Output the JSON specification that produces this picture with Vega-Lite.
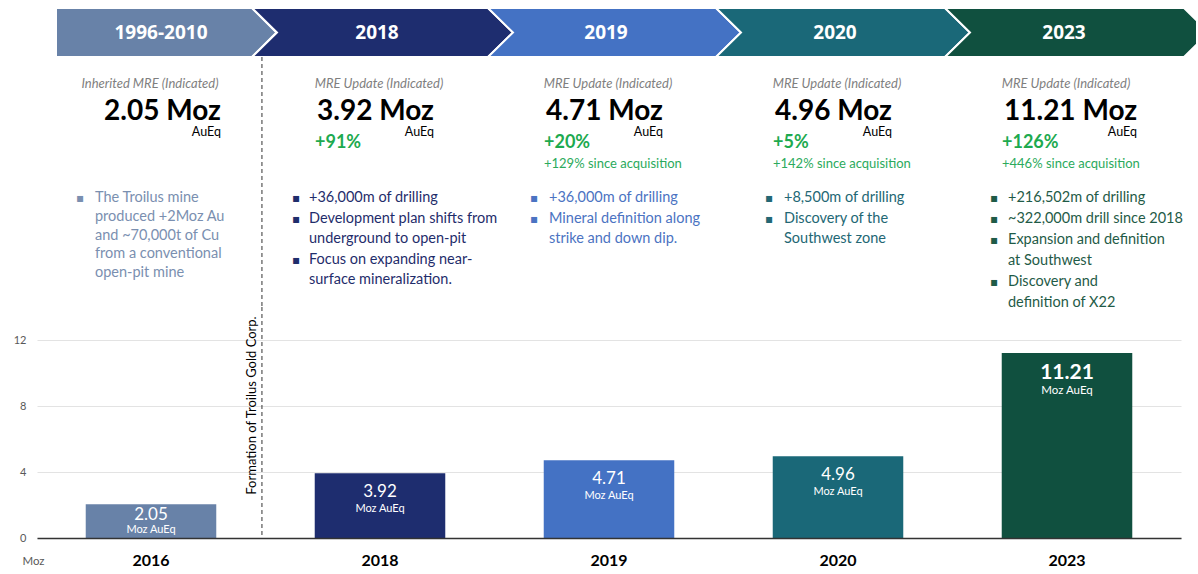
{
  "$schema": "https://vega.github.io/schema/vega-lite/v6.json",
  "padding": {"left": 13, "top": 4, "right": 0, "bottom": 0},
  "bounds": "flush",
  "spacing": 0,
  "background": "white",
  "config": {"view": {"stroke": null}, "font": "Lato",
             "axisY": {"labelOverlap": false, "labelFlush": false, "labelBound": false, "tickCount": 7, "labelSeparation": -200}},
  "datasets": {
    "stages": [
      {"year": "2016", "period": "1996-2010", "label": "Inherited MRE (Indicated)", "value": "2.05 Moz", "pct": "", "since": "", "mre": 2.05,
       "lines": ["The Troilus mine", "produced +2Moz Au", "and ~70,000t of Cu", "from a conventional", "open-pit mine"],
       "markers": ["▪", "\u200b", "\u200b", "\u200b", "\u200b"]},
      {"year": "2018", "period": "2018", "label": "MRE Update (Indicated)", "value": "3.92 Moz", "pct": "+91%", "since": "", "mre": 3.92,
       "lines": ["+36,000m of drilling", "Development plan shifts from", "underground to open-pit", "Focus on expanding near-", "surface mineralization."],
       "markers": ["▪", "▪", "\u200b", "▪", "\u200b"]},
      {"year": "2019", "period": "2019", "label": "MRE Update (Indicated)", "value": "4.71 Moz", "pct": "+20%", "since": "+129% since acquisition", "mre": 4.71,
       "lines": ["+36,000m of drilling", "Mineral definition along", "strike and down dip."],
       "markers": ["▪", "▪", "\u200b"]},
      {"year": "2020", "period": "2020", "label": "MRE Update (Indicated)", "value": "4.96 Moz", "pct": "+5%", "since": "+142% since acquisition", "mre": 4.96,
       "lines": ["+8,500m of drilling", "Discovery of the", "Southwest zone"],
       "markers": ["▪", "▪", "\u200b"]},
      {"year": "2023", "period": "2023", "label": "MRE Update (Indicated)", "value": "11.21 Moz", "pct": "+126%", "since": "+446% since acquisition", "mre": 11.21,
       "lines": ["+216,502m of drilling", "~322,000m drill since 2018", "Expansion and definition", "at Southwest", "Discovery and", "definition of X22"],
       "markers": ["▪", "▪", "▪", "\u200b", "▪", "\u200b"]}
    ],
    "events": [
      {"after": "2016", "event": "Formation of Troilus Gold Corp."}
    ]
  },
  "vconcat": [
    {
      "width": 1144, "height": 49,
      "data": {"name": "stages"},
      "encoding": {
        "x": {"field": "year", "type": "nominal", "axis": null,
              "scale": {"type": "band", "domain": ["2016", "2018", "2019", "2020", "2023"], "paddingInner": 0.43, "paddingOuter": 0.2128}}
      },
      "layer": [
        {
          "mark": {"type": "point", "filled": true, "opacity": 1, "size": 40000, "stroke": "white", "strokeWidth": 2},
          "encoding": {
            "color": {"field": "year", "type": "nominal", "legend": null,
                      "scale": {"domain": ["2016", "2018", "2019", "2020", "2023"], "range": ["#6882A8", "#1E2D6F", "#4472C4", "#1A6878", "#10503F"]}},
            "shape": {"field": "year", "type": "nominal", "legend": null,
                      "scale": {"domain": ["2016", "2018", "2019", "2020", "2023"],
                                "range": [
                                  "M-0.95,-0.245L1.01,-0.245L1.255,0L1.01,0.245L-0.95,0.245Z",
                                  "M-1.28,-0.245L1.08,-0.245L1.33,0L1.08,0.245L-1.28,0.245L-1.03,0Z",
                                  "M-1.21,-0.245L1.07,-0.245L1.32,0L1.07,0.245L-1.21,0.245L-0.96,0Z",
                                  "M-1.22,-0.245L1.07,-0.245L1.32,0L1.07,0.245L-1.22,0.245L-0.97,0Z",
                                  "M-1.22,-0.245L1.17,-0.245L1.30,-0.118L1.30,0.118L1.17,0.245L-1.22,0.245L-0.97,0Z"
                                ]}}
          }
        },
        {
          "transform": [{"filter": {"field": "year", "equal": "2016"}}],
          "mark": {"type": "text", "color": "white", "font": "Open Sans", "fontWeight": "bold", "fontSize": 19, "baseline": "middle", "dx": 10},
          "encoding": {"text": {"field": "period"}}
        },
        {
          "transform": [{"filter": {"not": {"field": "year", "equal": "2016"}}}],
          "mark": {"type": "text", "color": "white", "font": "Open Sans", "fontWeight": "bold", "fontSize": 19, "baseline": "middle", "dx": -3},
          "encoding": {"text": {"field": "period"}}
        }
      ]
    },
    {
      "width": 1144, "height": 250,
      "data": {"name": "stages"},
      "encoding": {
        "x": {"field": "year", "type": "nominal", "axis": null,
              "scale": {"type": "band", "domain": ["2016", "2018", "2019", "2020", "2023"], "paddingInner": 0.43, "paddingOuter": 0.2128}}
      },
      "layer": [
        {
          "data": {"name": "events"},
          "mark": {"type": "rule", "color": "#333333", "strokeWidth": 1, "strokeDash": [4, 3]},
          "encoding": {"x": {"field": "after", "type": "nominal", "bandPosition": 1.35}}
        },
        {
          "mark": {"type": "text", "fontStyle": "italic", "fontSize": 13, "color": "#7F7F7F", "baseline": "middle", "align": "center", "dx": -1, "dy": -98},
          "encoding": {"text": {"field": "label"}}
        },
        {
          "transform": [{"filter": {"field": "year", "equal": "2016"}}],
          "mark": {"type": "text", "fontWeight": "bold", "fontSize": 28, "color": "#000000", "baseline": "middle", "align": "left", "dx": -47, "dy": -70},
          "encoding": {"text": {"field": "value"}}
        },
        {
          "transform": [{"filter": {"not": {"field": "year", "equal": "2016"}}}],
          "mark": {"type": "text", "fontWeight": "bold", "fontSize": 28, "color": "#000000", "baseline": "middle", "align": "left", "dx": -63, "dy": -70},
          "encoding": {"text": {"field": "value"}}
        },
        {
          "transform": [{"filter": {"field": "year", "oneOf": ["2016", "2023"]}}],
          "mark": {"type": "text", "fontSize": 12.5, "color": "#000000", "baseline": "middle", "align": "right", "dx": 70, "dy": -50},
          "encoding": {"text": {"value": "AuEq"}}
        },
        {
          "transform": [{"filter": {"field": "year", "oneOf": ["2018", "2019", "2020"]}}],
          "mark": {"type": "text", "fontSize": 12.5, "color": "#000000", "baseline": "middle", "align": "right", "dx": 54, "dy": -50},
          "encoding": {"text": {"value": "AuEq"}}
        },
        {
          "mark": {"type": "text", "fontWeight": "bold", "fontSize": 18, "color": "#1DAA4F", "baseline": "middle", "align": "left", "dx": -65, "dy": -39},
          "encoding": {"text": {"field": "pct"}}
        },
        {
          "mark": {"type": "text", "fontSize": 13, "color": "#2BAA5C", "baseline": "middle", "align": "left", "dx": -65, "dy": -18},
          "encoding": {"text": {"field": "since"}}
        },
        {
          "transform": [{"filter": {"field": "year", "equal": "2016"}}],
          "mark": {"type": "text", "fontSize": 14.5, "color": "#7A8FB0", "baseline": "middle", "align": "left", "dx": -56, "dy": 16, "lineHeight": 18.75},
          "encoding": {"text": {"field": "lines"}}
        },
        {
          "transform": [{"filter": {"field": "year", "equal": "2016"}}],
          "mark": {"type": "text", "font": "DejaVu Sans", "fontSize": 12, "color": "#7A8FB0", "baseline": "middle", "align": "center", "dx": -71, "dy": 16, "lineHeight": 18.75},
          "encoding": {"text": {"field": "markers"}}
        },
        {
          "transform": [{"filter": {"field": "year", "equal": "2018"}}],
          "mark": {"type": "text", "fontSize": 14.5, "color": "#1F2D6B", "baseline": "middle", "align": "left", "dx": -71, "dy": 16, "lineHeight": 20.5},
          "encoding": {"text": {"field": "lines"}}
        },
        {
          "transform": [{"filter": {"field": "year", "equal": "2018"}}],
          "mark": {"type": "text", "font": "DejaVu Sans", "fontSize": 12, "color": "#1F2D6B", "baseline": "middle", "align": "center", "dx": -84, "dy": 16, "lineHeight": 20.5},
          "encoding": {"text": {"field": "markers"}}
        },
        {
          "transform": [{"filter": {"field": "year", "equal": "2019"}}],
          "mark": {"type": "text", "fontSize": 14.5, "color": "#4B73C2", "baseline": "middle", "align": "left", "dx": -60, "dy": 16, "lineHeight": 20.5},
          "encoding": {"text": {"field": "lines"}}
        },
        {
          "transform": [{"filter": {"field": "year", "equal": "2019"}}],
          "mark": {"type": "text", "font": "DejaVu Sans", "fontSize": 12, "color": "#4B73C2", "baseline": "middle", "align": "center", "dx": -75, "dy": 16, "lineHeight": 20.5},
          "encoding": {"text": {"field": "markers"}}
        },
        {
          "transform": [{"filter": {"field": "year", "equal": "2020"}}],
          "mark": {"type": "text", "fontSize": 14.5, "color": "#236774", "baseline": "middle", "align": "left", "dx": -54, "dy": 16, "lineHeight": 20.5},
          "encoding": {"text": {"field": "lines"}}
        },
        {
          "transform": [{"filter": {"field": "year", "equal": "2020"}}],
          "mark": {"type": "text", "font": "DejaVu Sans", "fontSize": 12, "color": "#236774", "baseline": "middle", "align": "center", "dx": -69, "dy": 16, "lineHeight": 20.5},
          "encoding": {"text": {"field": "markers"}}
        },
        {
          "transform": [{"filter": {"field": "year", "equal": "2023"}}],
          "mark": {"type": "text", "fontSize": 14.5, "color": "#1F5B47", "baseline": "middle", "align": "left", "dx": -59, "dy": 16, "lineHeight": 21},
          "encoding": {"text": {"field": "lines"}}
        },
        {
          "transform": [{"filter": {"field": "year", "equal": "2023"}}],
          "mark": {"type": "text", "font": "DejaVu Sans", "fontSize": 12, "color": "#1F5B47", "baseline": "middle", "align": "center", "dx": -73, "dy": 16, "lineHeight": 21},
          "encoding": {"text": {"field": "markers"}}
        }
      ]
    },
    {
      "width": 1144, "height": 231,
      "data": {"name": "stages"},
      "encoding": {
        "x": {"field": "year", "type": "nominal",
              "scale": {"type": "band", "domain": ["2016", "2018", "2019", "2020", "2023"], "paddingInner": 0.43, "paddingOuter": 0.2128},
              "axis": {"title": null, "labelAngle": 0, "labelFontSize": 16, "labelFontWeight": "bold", "labelColor": "#000000",
                       "ticks": false, "tickSize": 0, "labelPadding": 14, "domainColor": "#333333", "domainWidth": 1.5, "zindex": 1}}
      },
      "layer": [
        {
          "mark": {"type": "bar"},
          "encoding": {
            "y": {"field": "mre", "type": "quantitative",
                  "scale": {"domain": [0, 14], "nice": false},
                  "axis": {"values": [0, 2, 4, 6, 8, 10, 12, 14], "grid": true, "gridColor": "#E3E3E3", "domain": false, "ticks": false,
                           "labelOverlap": false, "labelSeparation": -200, "labelFlush": false, "labelBound": false,
                           "labelPadding": 11, "labelColor": "#595959", "labelFontSize": 11, "minExtent": 0,
                           "title": "Moz", "titleAngle": 0, "titleX": -4, "titleY": 254, "titleAlign": "center", "titleBaseline": "middle",
                           "titleFontWeight": "normal", "titleFontSize": 11.5, "titleColor": "#595959"}},
            "color": {"field": "year", "type": "nominal", "legend": null,
                      "scale": {"domain": ["2016", "2018", "2019", "2020", "2023"], "range": ["#6480A8", "#1E2D6F", "#4472C4", "#1A6878", "#10503F"]}}
          }
        },
        {
          "data": {"name": "events"},
          "mark": {"type": "rule", "color": "#333333", "strokeWidth": 1, "strokeDash": [4, 3]},
          "encoding": {"x": {"field": "after", "type": "nominal", "bandPosition": 1.35}}
        },
        {
          "data": {"name": "events"},
          "mark": {"type": "text", "angle": 270, "fontSize": 13, "color": "#000000", "align": "center", "baseline": "bottom", "dx": 17, "dy": -3},
          "encoding": {"x": {"field": "after", "type": "nominal", "bandPosition": 1.35}, "text": {"field": "event"}}
        },
        {
          "transform": [{"filter": {"field": "year", "oneOf": ["2018", "2019", "2020"]}}],
          "mark": {"type": "text", "fontSize": 17, "color": "white", "baseline": "middle", "dy": 19},
          "encoding": {"y": {"field": "mre", "type": "quantitative"}, "text": {"field": "mre", "type": "quantitative", "format": ".2f"}}
        },
        {
          "transform": [{"filter": {"field": "year", "oneOf": ["2018", "2019", "2020"]}}],
          "mark": {"type": "text", "fontSize": 11, "color": "white", "baseline": "middle", "dy": 36},
          "encoding": {"y": {"field": "mre", "type": "quantitative"}, "text": {"value": "Moz AuEq"}}
        },
        {
          "transform": [{"filter": {"field": "year", "equal": "2016"}}],
          "mark": {"type": "text", "fontSize": 17, "color": "white", "baseline": "middle", "dy": 11},
          "encoding": {"y": {"field": "mre", "type": "quantitative"}, "text": {"field": "mre", "type": "quantitative", "format": ".2f"}}
        },
        {
          "transform": [{"filter": {"field": "year", "equal": "2016"}}],
          "mark": {"type": "text", "fontSize": 11, "color": "white", "baseline": "middle", "dy": 26},
          "encoding": {"y": {"field": "mre", "type": "quantitative"}, "text": {"value": "Moz AuEq"}}
        },
        {
          "transform": [{"filter": {"field": "year", "equal": "2023"}}],
          "mark": {"type": "text", "fontSize": 21, "fontWeight": "bold", "color": "white", "baseline": "middle", "dy": 20},
          "encoding": {"y": {"field": "mre", "type": "quantitative"}, "text": {"field": "mre", "type": "quantitative", "format": ".2f"}}
        },
        {
          "transform": [{"filter": {"field": "year", "equal": "2023"}}],
          "mark": {"type": "text", "fontSize": 11.5, "color": "white", "baseline": "middle", "dy": 38},
          "encoding": {"y": {"field": "mre", "type": "quantitative"}, "text": {"value": "Moz AuEq"}}
        }
      ]
    }
  ]
}
